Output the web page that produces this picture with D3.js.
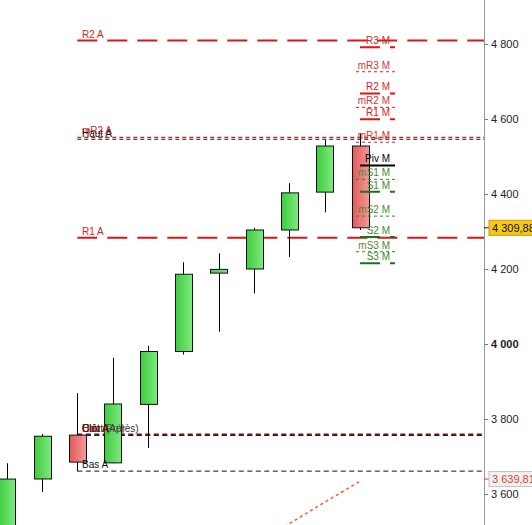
<!DOCTYPE html>
<html><head><meta charset="utf-8">
<script src="https://cdn.jsdelivr.net/npm/d3@7"></script>
<style>
html,body{margin:0;padding:0;background:#fff;}
svg{display:block;font-family:"Liberation Sans",Arial,sans-serif;}
</style></head>
<body>
<svg id="c" width="532" height="525"></svg>
<script>
// ---- data ----
const periods = ["P1","P2","P3","P4","P5","P6","P7","P8","P9","P10","P11"];
const openV  = [3500, 3640, 3757, 3683, 3839, 3980, 4189, 4200, 4304, 4405, 4528];
const highV  = [3682, 3760, 3869, 3963, 3995, 4218, 4242, 4310, 4429, 4544, 4560];
const lowV   = [3480, 3605, 3661, 3682, 3723, 3972, 4033, 4135, 4232, 4351, 4304];
const closeV = [3639.81, 3754, 3685, 3840, 3980, 4186, 4199, 4304, 4403, 4528, 4309.88];
const maV    = [null, null, null, null, null, null, null, 3462, 3521, 3578, 3634];

const annualNames  = ["R2 A", "mR2 A", "Haut A", "R1 A", "Ouv A", "Clôt A", "Bas A"];
const annualValues = [4809, 4551, 4546, 4283.5, 3758, 3756, 3661];
const annualKinds  = ["R", "mR", "H", "R", "O", "C", "B"];

const monthlyNames  = ["R3 M","mR3 M","R2 M","mR2 M","R1 M","mR1 M","Piv M","mS1 M","S1 M","mS2 M","S2 M","mS3 M","S3 M"];
const monthlyValues = [4791, 4726, 4668, 4631, 4599, 4538, 4476, 4439, 4406, 4341, 4285, 4246, 4215];
const monthlyKinds  = ["R","mR","R","mR","R","mR","P","mS","S","mS","S","mS","S"];

const tickValues = [3600, 3800, 4000, 4200, 4400, 4600, 4800];
const lastPrice = 4309.88;
const refPrice = 3639.81;

// ---- scales ----
const W = 532, H = 525, axisX = 484;
const y = d3.scaleLinear().domain([3517.33, 4917.33]).range([H, 0]);
const x = d3.scalePoint().domain(periods).range([6.8, 360]);
const bodyW = 17;
const fmt = v => d3.format(",")(v).replace(/,/g, " ");
const fmt2 = v => d3.format(",.2f")(v).replace(/,/g, " ").replace(".", ",");

const svg = d3.select("#c");
const defs = svg.append("defs");
const gG = defs.append("linearGradient").attr("id","gG");
gG.append("stop").attr("offset","0").attr("stop-color","#3fcc3f");
gG.append("stop").attr("offset","1").attr("stop-color","#7fe97f");
const gR = defs.append("linearGradient").attr("id","gR");
gR.append("stop").attr("offset","0").attr("stop-color","#e25a5a");
gR.append("stop").attr("offset","1").attr("stop-color","#f29a9a");
defs.append("clipPath").attr("id","clip").append("rect").attr("x",0).attr("y",0).attr("width",axisX).attr("height",H);

const plot = svg.append("g").attr("clip-path","url(#clip)");

// annual levels
const annStyle = {
  R:  {stroke:"#dd1515", w:2,   dash:"20,10", text:"#dd2222"},
  mR: {stroke:"#cc2222", w:1.2, dash:"4,3",   text:"#cc2a2a"},
  H:  {stroke:"#111",    w:1,   dash:"4,3",   text:"#111"},
  O:  {stroke:"#7a1010", w:2.5, dash:"5,3.5", text:"#a01818"},
  C:  {stroke:"#222",    w:1,   dash:"5,3.5", text:"#5a1010"},
  B:  {stroke:"#111",    w:1,   dash:"5,3.5", text:"#111"}
};
const annX0 = 77.3;
annualValues.forEach((v,i)=>{
  const s = annStyle[annualKinds[i]];
  plot.append("line").attr("x1",annX0).attr("x2",axisX).attr("y1",y(v)).attr("y2",y(v))
    .attr("stroke",s.stroke).attr("stroke-width",s.w).attr("stroke-dasharray",s.dash);
});

// moving average (orange dotted)
const ma = periods.map((p,i)=>({p, v:maV[i]})).filter(d=>d.v!==null);
plot.append("path").datum(ma)
  .attr("d", d3.line().x(d=>x(d.p)).y(d=>y(d.v)))
  .attr("fill","none").attr("stroke","#ff5a2a").attr("stroke-width",1.5).attr("stroke-dasharray","3,3");

// candles
const candles = periods.map((p,i)=>({p, o:openV[i], h:highV[i], l:lowV[i], c:closeV[i]}));
const cg = plot.append("g");
cg.selectAll("line.w").data(candles).join("line").attr("class","w")
  .attr("x1",d=>Math.round(x(d.p))+0.5).attr("x2",d=>Math.round(x(d.p))+0.5)
  .attr("y1",d=>y(d.h)).attr("y2",d=>y(d.l)).attr("stroke","#000").attr("stroke-width",1);
cg.selectAll("rect.b").data(candles).join("rect").attr("class","b")
  .attr("x",d=>Math.round(x(d.p)-bodyW/2)+0.5).attr("width",bodyW)
  .attr("y",d=>y(Math.max(d.o,d.c))).attr("height",d=>Math.max(1,Math.abs(y(d.o)-y(d.c))))
  .attr("fill",d=>d.c>=d.o?"url(#gG)":"url(#gR)").attr("stroke","#111").attr("stroke-width",1);

// annual labels
const lab = svg.append("g").attr("font-size",10);
const labX = 82;
const annLab = [
  {i:0, dy:-3}, {i:1, dy:-3}, {i:2, dy:-2}, {i:3, dy:-3}, {i:6, dy:-3}
];
annLab.forEach(a=>{
  const s = annStyle[annualKinds[a.i]];
  lab.append("text").attr("x",labX).attr("y",y(annualValues[a.i])+a.dy)
    .attr("fill",s.text).text(annualNames[a.i]);
});
// overlapped cluster of labels near the annual open/close
const clusterY = y(annualValues[4]) - 3;
[["Haut (Après)","#333"],["Clôt (Pré)","#555"],["Ouv A","#b01a1a"],["Clôt A","#4a0d0d"]].forEach(t=>{
  lab.append("text").attr("x",labX).attr("y",clusterY).attr("fill",t[1]).text(t[0]);
});

// monthly pivots
const mStyle = {
  R:  {stroke:"#dd1515", w:2,   dash:"20,10", x0:360, text:"#dd2222"},
  mR: {stroke:"#dd2222", w:1,   dash:"3,3",   x0:356, text:"#dd3333"},
  P:  {stroke:"#000",    w:2,   dash:null,    x0:360, text:"#000"},
  S:  {stroke:"#1b741b", w:2,   dash:"20,10", x0:360, text:"#3f8a2a"},
  mS: {stroke:"#2a8a2a", w:1,   dash:"3,3",   x0:356, text:"#4f8a30"}
};
const mx = x(periods[periods.length-1]);
monthlyValues.forEach((v,i)=>{
  const s = mStyle[monthlyKinds[i]];
  const ln = svg.append("line").attr("x1",s.x0).attr("x2",mx+35).attr("y1",y(v)).attr("y2",y(v))
    .attr("stroke",s.stroke).attr("stroke-width",s.w);
  if (s.dash) ln.attr("stroke-dasharray",s.dash);
  svg.append("text").attr("x",mx+30).attr("y",y(v)-3).attr("text-anchor","end")
    .attr("font-size",10).attr("fill",s.text).text(monthlyNames[i]);
});

// axis
const ax = svg.append("g").attr("transform",`translate(${axisX},0)`)
  .call(d3.axisRight(y).tickValues(tickValues).tickSize(4).tickPadding(3).tickFormat(fmt));
ax.select(".domain").attr("d",`M0.5,0V${H}`).attr("stroke","#9a9a9a");
ax.selectAll(".tick line").attr("stroke","#777").attr("x1",0.5);
ax.selectAll(".tick text").attr("font-size",11).attr("fill","#222")
  .attr("font-family","'Liberation Sans',Arial,sans-serif")
  .attr("font-weight",d=>d===4000?"bold":"normal");

// price boxes
function priceBox(v, fill, stroke, color){
  const yy = y(v);
  const g = svg.append("g");
  g.append("line").attr("x1",axisX).attr("x2",axisX+5).attr("y1",yy).attr("y2",yy).attr("stroke",color);
  g.append("rect").attr("x",axisX+5).attr("y",yy-7.5).attr("width",60).attr("height",15)
    .attr("fill",fill).attr("stroke",stroke);
  g.append("text").attr("x",axisX+8).attr("y",yy+4).attr("font-size",11).attr("fill",color).text(fmt2(v));
}
priceBox(lastPrice, "#f7c914", "#c89b00", "#111");
priceBox(refPrice, "#f2f2f2", "#c0c0c0", "#e23a3a");
</script>
</body></html>
